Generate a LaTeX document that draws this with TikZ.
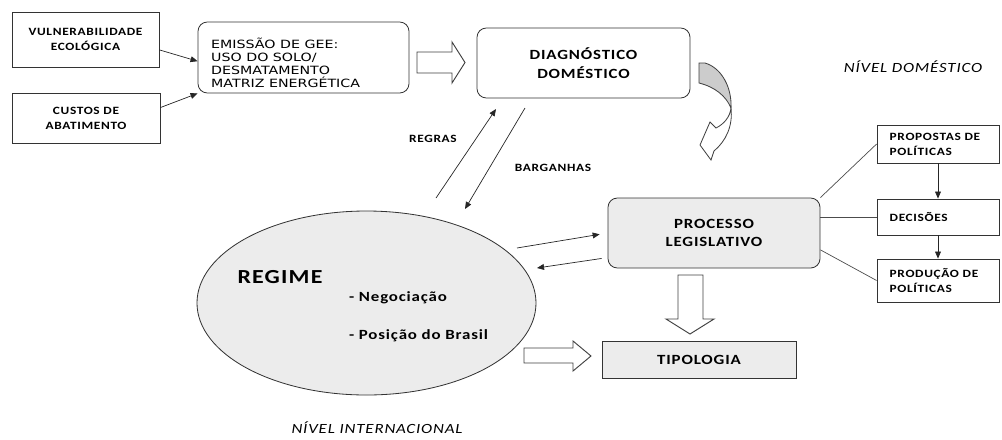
\documentclass[tikz,border=0pt]{standalone}
\usepackage{fontspec}
\setmainfont{Carlito}
\newfontfamily\lblfont[FakeStretch=1.2,LetterSpace=6]{Carlito}
\newfontfamily\emisfont[FakeStretch=1.25]{DejaVu Sans}
\usetikzlibrary{arrows.meta, calc, positioning, shapes.geometric}

\tikzset{
  boxline/.style={draw=black!80, line width=0.7pt},
  smallbox/.style={boxline, font=\lblfont\bfseries\fontsize{9.5}{13}\selectfont, align=center, inner sep=1pt},
  listbox/.style={smallbox, align=left, text width=2.9cm, inner xsep=0.38cm, minimum width=3.66cm},
  bigbox/.style={boxline, font=\lblfont\bfseries\fontsize{12}{16}\selectfont, align=center},
  roundbox/.style={bigbox, rounded corners=8pt},
  tag/.style={font=\lblfont\bfseries\fontsize{9.5}{13}\selectfont},
  level/.style={font=\lblfont\itshape\fontsize{12}{14}\selectfont},
  hollow/.style={draw=black!75, line width=0.8pt, fill=white, line join=miter},
  flow/.style={-{Triangle[length=6pt,width=5pt]}, black!85, line width=0.6pt},
  link/.style={black!70, line width=0.6pt}
}

\begin{document}
\begin{tikzpicture}[x=0.03cm, y=-0.03cm]
\useasboundingbox (0,0) rectangle (1002,439);

% Fatores
\node[smallbox, minimum width=4.41cm, minimum height=1.65cm] (vuln) at (85.5,39.5) {VULNERABILIDADE\\ECOLÓGICA};
\node[smallbox, minimum width=4.44cm, minimum height=1.5cm] (custos) at (86,118) {CUSTOS DE\\ABATIMENTO};

% Nivel domestico
\node[roundbox, minimum width=6.33cm, minimum height=2.13cm] (emissao) at (303.5,57.5) {};
\node[anchor=west, align=left, inner sep=0pt, font=\emisfont\fontsize{9.7}{11.1}\selectfont] (emistxt) at (211,63) {EMISSÃO DE GEE:\\USO DO SOLO/\\DESMATAMENTO\\MATRIZ ENERGÉTICA};
\node[roundbox, minimum width=6.39cm, minimum height=2.1cm] (diag) at (583.5,63) {DIAGNÓSTICO\\DOMÉSTICO};
\node[roundbox, fill=gray!15, minimum width=6.36cm, minimum height=2.1cm] (processo) at (714,233) {PROCESSO\\LEGISLATIVO};
\node[bigbox, fill=gray!15, minimum width=5.82cm, minimum height=1.11cm] (tipologia) at (699,359.5) {TIPOLOGIA};

% Etapas
\node[listbox, minimum height=1.14cm] (propostas) at (938,144) {PROPOSTAS~DE\\POLÍTICAS};
\node[listbox, minimum height=1.08cm] (decisoes) at (938,217) {DECISÕES};
\node[listbox, minimum height=1.29cm] (producao) at (938,280.5) {PRODUÇÃO~DE\\POLÍTICAS};

% Regime
\node[ellipse, boxline, fill=gray!15, minimum width=10.17cm, minimum height=5.52cm, inner sep=0pt] (regime) at (366.5,303) {};
\node[font=\lblfont\bfseries\fontsize{17}{20}\selectfont] (regimetit) at (280,277) {REGIME};
\node[anchor=west, font=\lblfont\bfseries\fontsize{12}{14}\selectfont] (negoc) at (345,298) {- Negociação};
\node[anchor=west, font=\lblfont\bfseries\fontsize{12}{14}\selectfont] (posicao) at (345,336) {- Posição do Brasil};

% Niveis e rotulos
\node[level] (nivdom) at (913,67) {NÍVEL DOMÉSTICO};
\node[level] (nivint) at (377,428) {NÍVEL INTERNACIONAL};
\node[tag] (regras) at (433,139) {REGRAS};
\node[tag] (barganhas) at (553,168) {BARGANHAS};

% Conectores
\draw[flow] (vuln.-8) -- (emissao.182);
\draw[flow] (custos.8) -- (emissao.south west);

\coordinate (rgA) at (436,198);
\coordinate (rgB) at (496,109);
\coordinate (bgA) at (525,108);
\coordinate (bgB) at (465,209);
\draw[flow] (rgA) -- (rgB);
\draw[flow] (bgA) -- (bgB);

\coordinate (rpA) at (517,248);
\coordinate (prB) at (537,268);
\draw[flow, shorten >=0.24cm] (rpA) -- (processo.west);
\draw[flow, shorten <=0.18cm] (processo.193) -- (prB);

\draw[link] (processo.north east) -- (propostas.west);
\draw[link] (processo.east |- decisoes.west) -- (decisoes.west);
\draw[link] (processo.-9) -- (producao.west);
\draw[flow] (propostas) -- (decisoes);
\draw[flow] (decisoes) -- (producao);

% Setas largas
\draw[hollow] (417,52) -- (452,52) -- (452,42) -- (465,62.5) -- (452,83) -- (452,73) -- (417,73) -- cycle;
\draw[hollow] (524,348) -- (573,348) -- (573,341) -- (591,356) -- (573,371) -- (573,363) -- (524,363) -- cycle;
\draw[hollow] (678,275) -- (703,275) -- (703,319) -- (714,319) -- (690,334) -- (666,319) -- (678,319) -- cycle;

% Seta curva
\draw[hollow, fill=gray!40, line width=0.7pt] (699,63) -- (705,63) .. controls (722,68) and (732,88) .. (731,108)
  .. controls (726,96) and (715,87) .. (699,83) -- cycle;
\draw[hollow, line width=0.7pt] (731,108) .. controls (730,117) and (724,124) .. (716,128) -- (710,122) -- (700,145)
  -- (711,160) -- (714,151) .. controls (726,141) and (733,126) .. (731,108) -- cycle;
\end{tikzpicture}
\end{document}
